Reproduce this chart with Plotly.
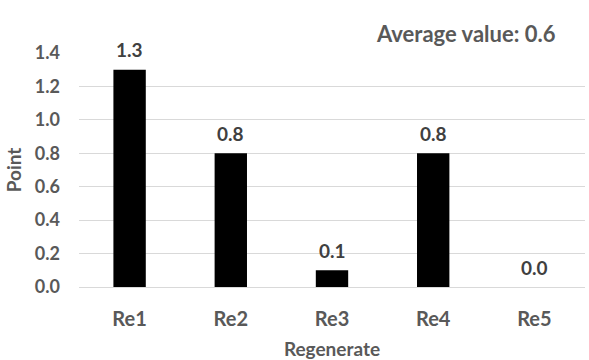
import plotly.graph_objects as go

categories = ["Re1", "Re2", "Re3", "Re4", "Re5"]
points = [1.3, 0.8, 0.1, 0.8, 0.0]
average_value = 0.6
y_ticks = [0.0, 0.2, 0.4, 0.6, 0.8, 1.0, 1.2, 1.4]

font_family = "Lato"
text_grey = "#595959"
label_grey = "#404040"

fig = go.Figure(
    go.Bar(
        x=categories,
        y=points,
        marker=dict(color="black", line=dict(width=0)),
        width=0.32,
        cliponaxis=False,
    )
)

# value labels above each bar
for cat, val in zip(categories, points):
    fig.add_annotation(
        x=cat, y=val, text=f"{val:.1f}",
        xref="x", yref="y", yshift=20,
        xanchor="center", yanchor="middle", showarrow=False,
        font=dict(family=font_family, size=19, color=label_grey, weight="bold"),
    )

fig.add_annotation(
    text=f"Average value: {average_value}",
    xref="paper", yref="paper",
    x=0.764, y=1.0, yshift=20,
    xanchor="center", yanchor="middle",
    showarrow=False,
    font=dict(family=font_family, size=22, color=text_grey, weight="bold"),
)

axis_title_font = dict(family=font_family, size=19, color=text_grey, weight="bold")

fig.update_layout(
    width=589, height=360,
    margin=dict(l=79, r=4, t=53, b=73),
    plot_bgcolor="white", paper_bgcolor="white",
    showlegend=False,
    xaxis=dict(
        title=dict(text="Regenerate", font=axis_title_font, standoff=13),
        tickfont=dict(family=font_family, size=20, color=text_grey, weight="bold"),
        showgrid=False, showline=False, ticks="", ticklabelstandoff=18,
    ),
    yaxis=dict(
        title=dict(text="Point", font=axis_title_font, standoff=8),
        tickfont=dict(family=font_family, size=18, color=text_grey, weight="bold"),
        range=[0, 1.4], tickvals=y_ticks, ticktext=[f"{v:.1f}" for v in y_ticks],
        showgrid=True, gridcolor="#d9d9d9", gridwidth=1,
        zeroline=True, zerolinecolor="#d9d9d9", zerolinewidth=1,
        showline=False, ticks="", ticklabelstandoff=18,
    ),
)

fig.write_html("out.html")
